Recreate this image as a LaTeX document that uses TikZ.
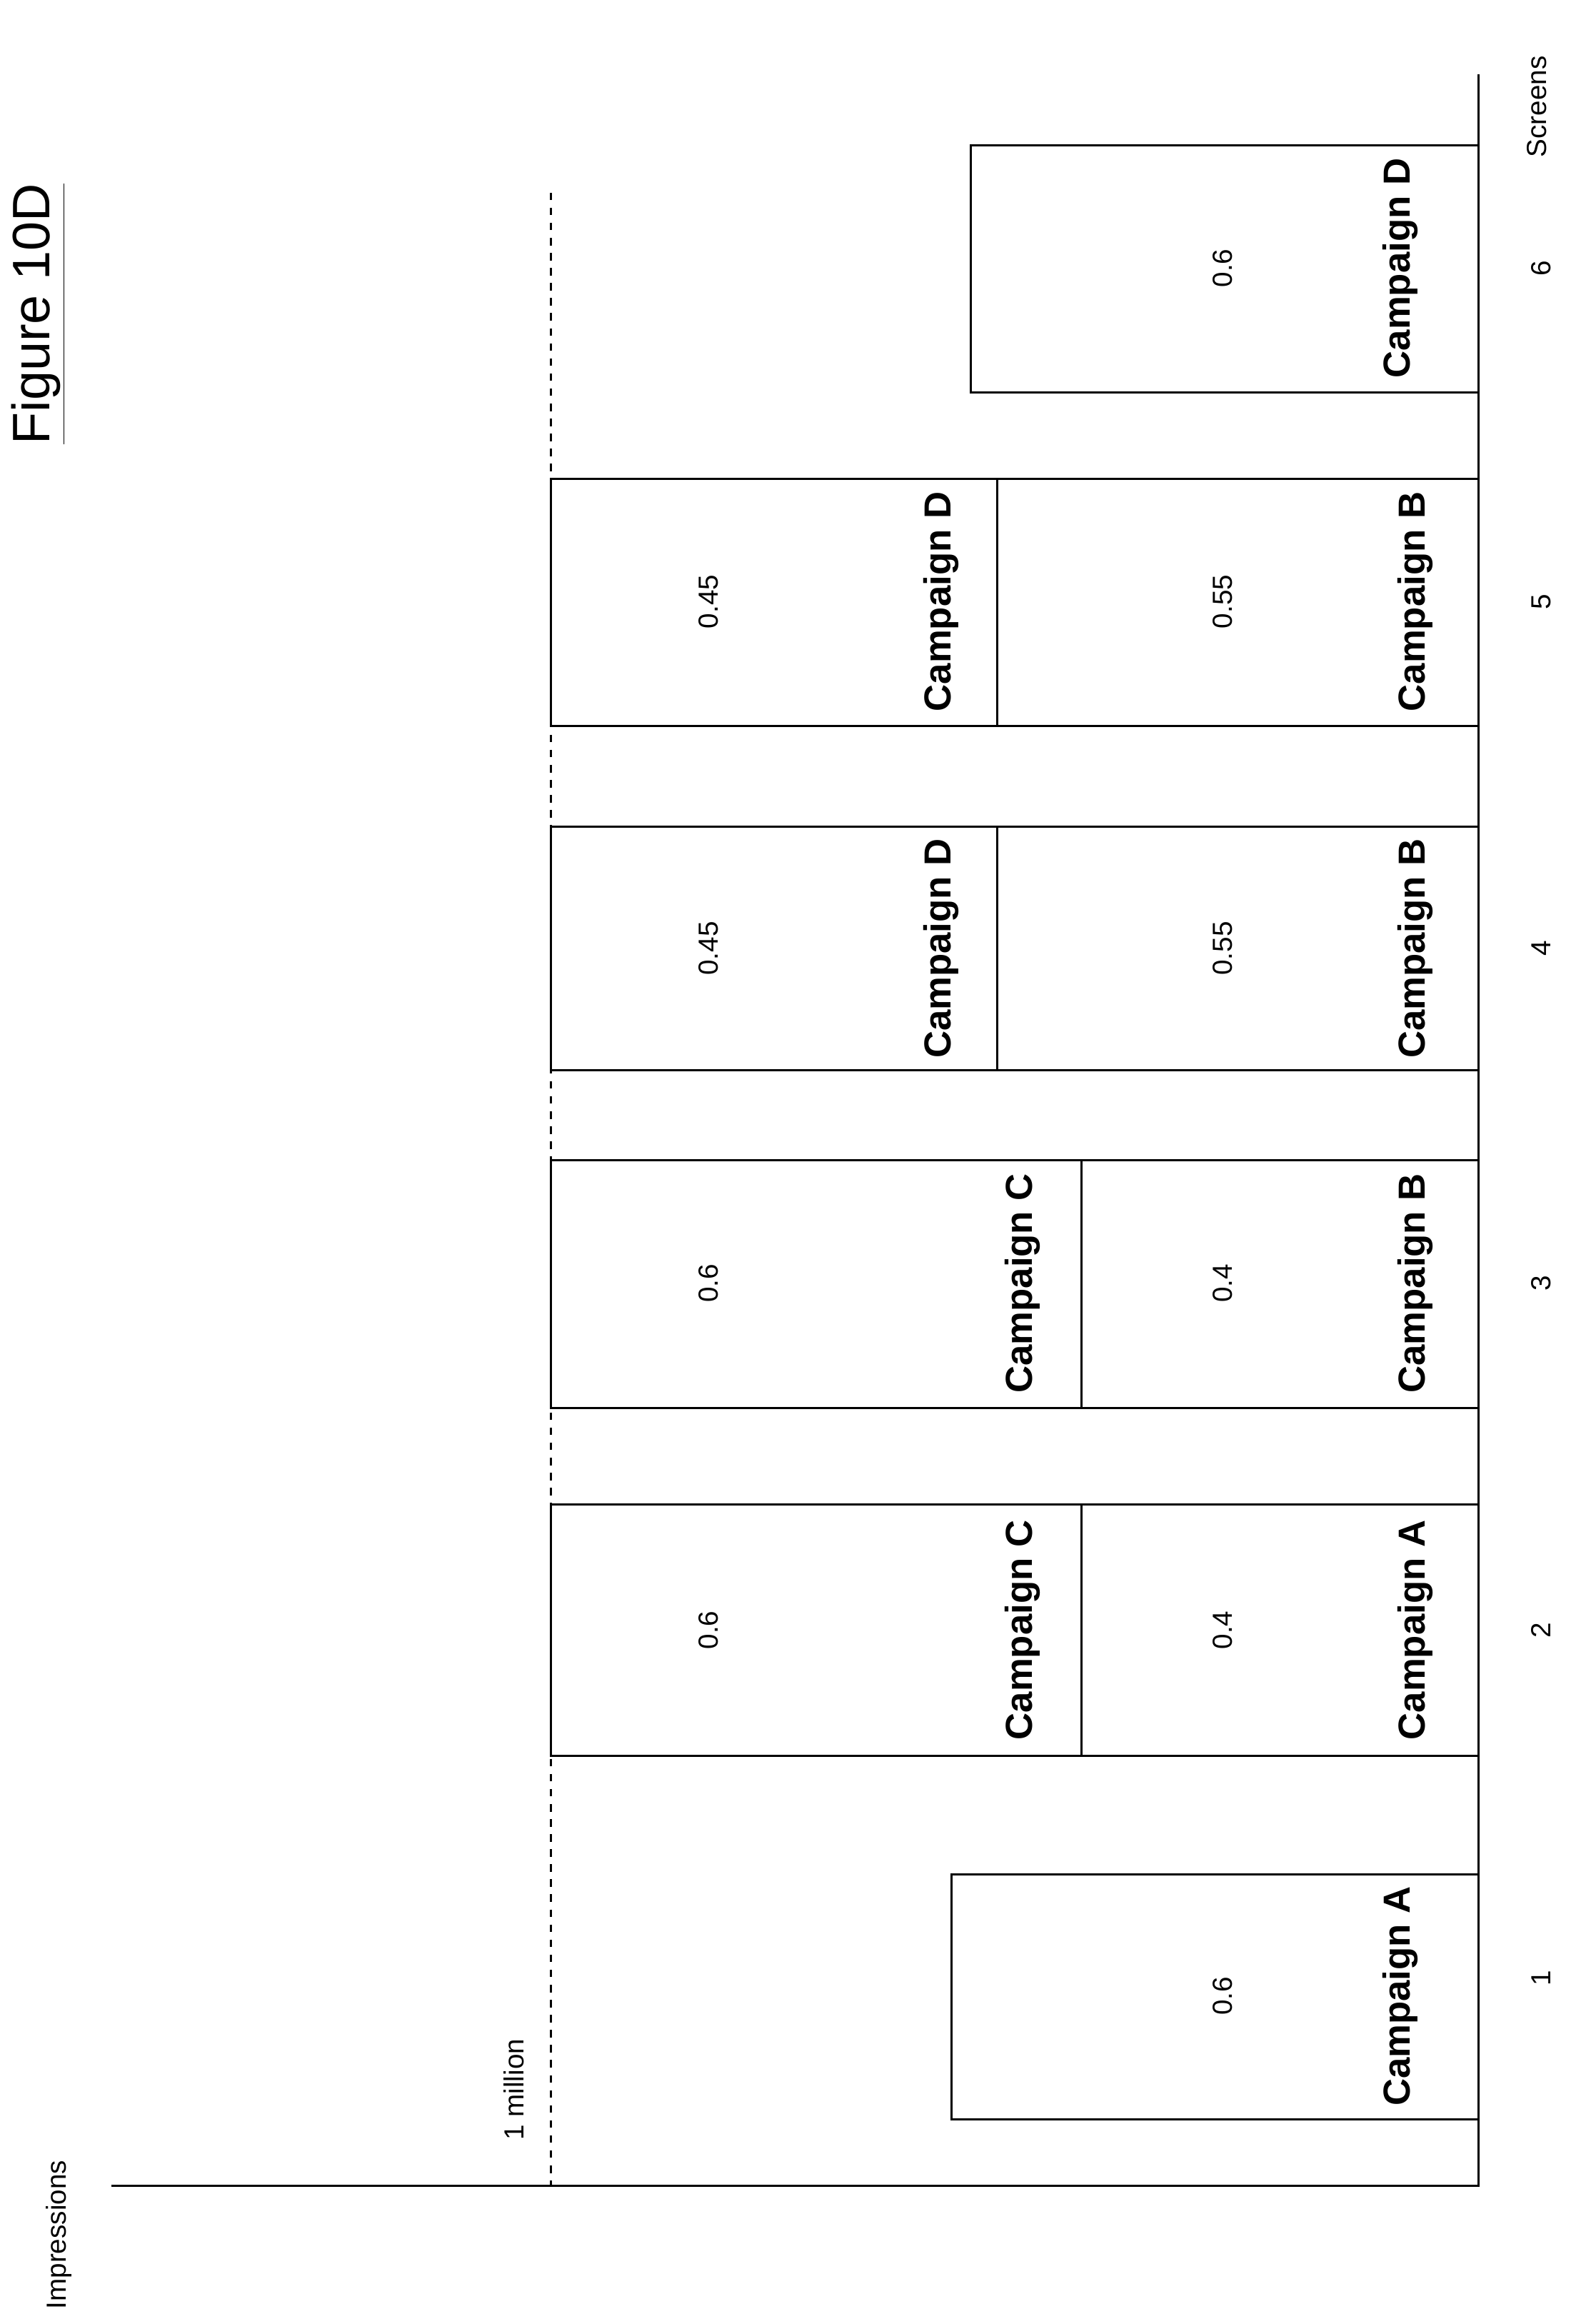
\documentclass[tikz,border=0pt]{standalone}
\usepackage{fontspec}
\setmainfont{Liberation Sans}
\begin{document}
\begin{tikzpicture}[x=0.02075cm, y=-0.02075cm,
    lbl/.style={rotate=90, font=\fontsize{11}{13}\selectfont, inner sep=0pt},
    camp/.style={rotate=90, font=\fontsize{15}{17}\selectfont\bfseries, inner sep=0pt},
    bar/.style={thick}]
        \useasboundingbox (0,0) rectangle (1059.8,1568.2);
        \coordinate (O) at (998,1475);
        \coordinate (X) at (75,1475);
        \coordinate (Y) at (998,50);
        \draw [thick] (X) -- (O) -- (Y);
        \draw [thick, dashed] (372,130) -- (372,1475);
        \node [rotate=90, font=\fontsize{21}{24}\selectfont, inner sep=0pt] (title) at (26,212) {\underline{Figure 10D}};
        \node [lbl] (imp) at (40,1508) {Impressions};
        \node [lbl] (scr) at (1037,72) {Screens};
        \node [lbl] (mil) at (347,1410) {1 million};
        % screen numbers
        \node [lbl] (s1) at (1040,1335) {1};
        \node [lbl] (s2) at (1040,1100) {2};
        \node [lbl] (s3) at (1040,866) {3};
        \node [lbl] (s4) at (1040,640) {4};
        \node [lbl] (s5) at (1040,406) {5};
        \node [lbl] (s6) at (1040,181) {6};
        % screen 1
        \draw [bar] (642,1265) rectangle (998,1430);
        \node [lbl] (v1) at (825,1347) {0.6};
        \node [camp] (c1) at (945,1347) {Campaign A};
        % screen 2
        \draw [bar] (372,1015) rectangle (998,1185);
        \draw [bar] (730,1015) -- (730,1185);
        \node [lbl] (v2a) at (478,1100) {0.6};
        \node [camp] (c2a) at (690,1100) {Campaign C};
        \node [lbl] (v2b) at (825,1100) {0.4};
        \node [camp] (c2b) at (955,1100) {Campaign A};
        % screen 3
        \draw [bar] (372,783) rectangle (998,950);
        \draw [bar] (730,783) -- (730,950);
        \node [lbl] (v3a) at (478,866) {0.6};
        \node [camp] (c3a) at (690,866) {Campaign C};
        \node [lbl] (v3b) at (825,866) {0.4};
        \node [camp] (c3b) at (955,866) {Campaign B};
        % screen 4
        \draw [bar] (372,558) rectangle (998,722);
        \draw [bar] (673,558) -- (673,722);
        \node [lbl] (v4a) at (478,640) {0.45};
        \node [camp] (c4a) at (635,640) {Campaign D};
        \node [lbl] (v4b) at (825,640) {0.55};
        \node [camp] (c4b) at (955,640) {Campaign B};
        % screen 5
        \draw [bar] (372,323) rectangle (998,490);
        \draw [bar] (673,323) -- (673,490);
        \node [lbl] (v5a) at (478,406) {0.45};
        \node [camp] (c5a) at (635,406) {Campaign D};
        \node [lbl] (v5b) at (825,406) {0.55};
        \node [camp] (c5b) at (955,406) {Campaign B};
        % screen 6
        \draw [bar] (655,98) rectangle (998,265);
        \node [lbl] (v6) at (825,181) {0.6};
        \node [camp] (c6) at (945,181) {Campaign D};
    \end{tikzpicture}
\end{document}
